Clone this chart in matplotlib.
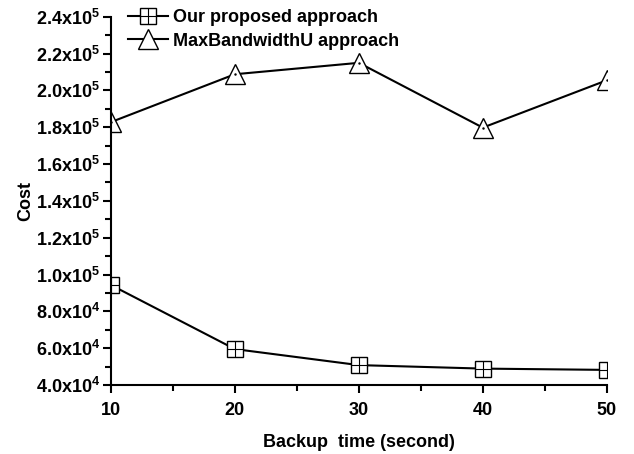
import matplotlib
matplotlib.use("Agg")
import matplotlib.pyplot as plt
from matplotlib.ticker import FuncFormatter, MultipleLocator
from matplotlib.lines import Line2D

backup_time = [10, 20, 30, 40, 50]
proposed = [94300, 59500, 50800, 48900, 48200]
maxbw = [182800, 208800, 215000, 179800, 205500]

plt.rcParams["font.family"] = "Liberation Sans"
plt.rcParams["font.weight"] = "bold"
plt.rcParams["mathtext.fontset"] = "custom"
plt.rcParams["mathtext.rm"] = "Liberation Sans:bold"
plt.rcParams["mathtext.it"] = "Liberation Sans:bold"
plt.rcParams["mathtext.bf"] = "Liberation Sans:bold"

fig = plt.figure(figsize=(6.34, 4.54), dpi=100)
ax = fig.add_axes([0.175, 0.152, 0.782, 0.811])

ax.plot(backup_time, proposed, color="black", lw=1.5, marker="s", ms=11,
        mfc="white", mec="black", mew=1.0)
ax.plot(backup_time, proposed, ls="none", marker="+", ms=11, mec="black", mew=0.8)
ax.plot(backup_time, maxbw, color="black", lw=1.5, marker="^", ms=14,
        mfc="white", mec="black", mew=1.0)
ax.plot(backup_time, maxbw, ls="none", marker=".", ms=1.5, color="black")

ax.set_xlim(10, 50)
ax.set_ylim(40000, 240000)
ax.xaxis.set_major_locator(MultipleLocator(10))
ax.xaxis.set_minor_locator(MultipleLocator(5))
ax.yaxis.set_major_locator(MultipleLocator(20000))
ax.yaxis.set_minor_locator(MultipleLocator(10000))


def sci(v, pos):
    e = len(str(int(v))) - 1
    m = v / 10 ** e
    return r"$%.1f\mathrm{x}10^{%d}$" % (m, e)


ax.yaxis.set_major_formatter(FuncFormatter(sci))
ax.spines["top"].set_visible(False)
ax.spines["right"].set_visible(False)
ax.spines["left"].set_linewidth(1.5)
ax.spines["bottom"].set_linewidth(1.5)
ax.tick_params(which="major", direction="out", length=6, width=1.5, labelsize=13)
ax.tick_params(which="minor", direction="out", length=4, width=1.5)
ax.tick_params(axis="x", pad=6)
ax.tick_params(axis="y", pad=2)

ax.set_xlabel("Backup  time (second)", fontsize=13, fontweight="bold", labelpad=11)
ax.set_ylabel("Cost", fontsize=13, fontweight="bold", labelpad=1)

h1 = (Line2D([], [], color="black", lw=1.5, marker="s", ms=11, mfc="white", mec="black", mew=1.0),
      Line2D([], [], ls="none", marker="+", ms=11, mec="black", mew=0.8))
h2 = Line2D([], [], color="black", lw=1.5, marker="^", ms=14, mfc="white", mec="black", mew=1.0)
ax.legend([h1, h2], ["Our proposed approach", "MaxBandwidthU approach"],
          loc="upper left", frameon=False, fontsize=13, handlelength=2.2,
          handletextpad=0.3, labelspacing=0.35, borderaxespad=0.0,
          bbox_to_anchor=(0.02, 1.04))

fig.savefig("out.png", dpi=100)
